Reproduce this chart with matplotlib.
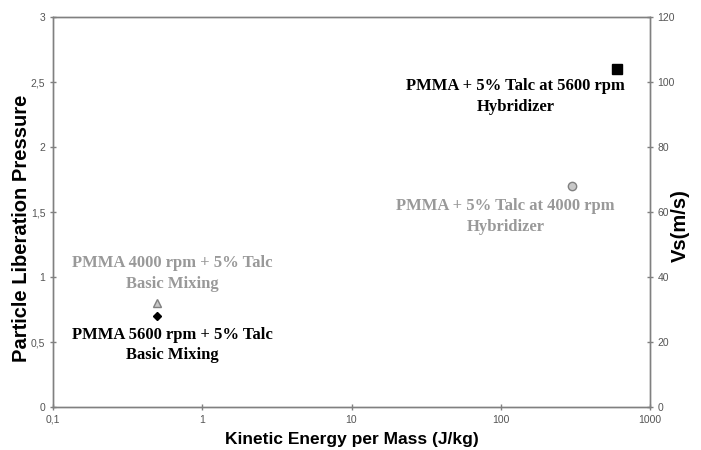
import matplotlib.pyplot as plt
from matplotlib.ticker import FixedLocator, FixedFormatter

# data
samples = ["PMMA 4000 rpm + 5% Talc\nBasic Mixing",
           "PMMA 5600 rpm + 5% Talc\nBasic Mixing",
           "PMMA + 5% Talc at 4000 rpm\nHybridizer",
           "PMMA + 5% Talc at 5600 rpm\nHybridizer"]
energy = [0.5, 0.5, 300, 600]
pressure = [0.8, 0.7, 1.7, 2.6]
markers = ["^", "D", "o", "s"]
face_colors = ["#c8c8c8", "black", "#c8c8c8", "black"]
edge_colors = ["#808080", "black", "#808080", "black"]
marker_sizes = [6, 4.5, 6, 6.5]
label_colors = ["#999999", "black", "#999999", "black"]
# label centre positions (x in J/kg, y in pressure units)
label_x = [0.63, 0.63, 108, 126]
label_y = [1.03, 0.477, 1.465, 2.39]

x_ticks = [0.1, 1, 10, 100, 1000]
x_tick_labels = ["0,1", "1", "10", "100", "1000"]
y_ticks = [0, 0.5, 1, 1.5, 2, 2.5, 3]
y_tick_labels = ["0", "0,5", "1", "1,5", "2", "2,5", "3"]
y2_ticks = [0, 20, 40, 60, 80, 100, 120]

fig = plt.figure(figsize=(7.01, 4.5), dpi=100)
ax = fig.add_axes([53 / 701, 43 / 450, 597 / 701, 390 / 450])

for i in range(len(samples)):
    ax.plot(energy[i], pressure[i], marker=markers[i], linestyle="none",
            markersize=marker_sizes[i], markerfacecolor=face_colors[i],
            markeredgecolor=edge_colors[i], markeredgewidth=1)
    ax.text(label_x[i], label_y[i], samples[i], ha="center", va="center",
            family="Liberation Serif", fontweight="bold", fontsize=12,
            color=label_colors[i], linespacing=1.4)

ax.set_xscale("log")
ax.set_xlim(0.1, 1000)
ax.set_ylim(0, 3)
ax.xaxis.set_major_locator(FixedLocator(x_ticks))
ax.xaxis.set_major_formatter(FixedFormatter(x_tick_labels))
ax.xaxis.set_minor_locator(FixedLocator([]))
ax.yaxis.set_major_locator(FixedLocator(y_ticks))
ax.yaxis.set_major_formatter(FixedFormatter(y_tick_labels))

ax2 = ax.twinx()
ax2.set_ylim(0, 120)
ax2.set_yticks(y2_ticks)

for a in (ax, ax2):
    for s in a.spines.values():
        s.set_color("#808080")
        s.set_linewidth(1)
    a.tick_params(direction="inout", length=4, width=1, color="#808080",
                  labelsize=7.5, labelcolor="#555555")
for lab in ax.get_xticklabels() + ax.get_yticklabels() + ax2.get_yticklabels():
    lab.set_family("Liberation Sans")

ax.set_xlabel("Kinetic Energy per Mass (J/kg)", family="Liberation Sans",
              fontweight="bold", fontsize=12.5, labelpad=5)
ax.set_ylabel("Particle Liberation Pressure", family="Liberation Sans",
              fontweight="bold", fontsize=14.5)
ax2.set_ylabel("Vs(m/s)", family="Liberation Sans", fontweight="bold",
               fontsize=14.5)
ax.yaxis.set_label_coords(-0.0536, 0.459)
ax2.yaxis.set_label_coords(1.0503, 0.464)
ax.yaxis.label.set_va("center")
ax2.yaxis.label.set_va("center")

fig.savefig("out.png", dpi=100)
